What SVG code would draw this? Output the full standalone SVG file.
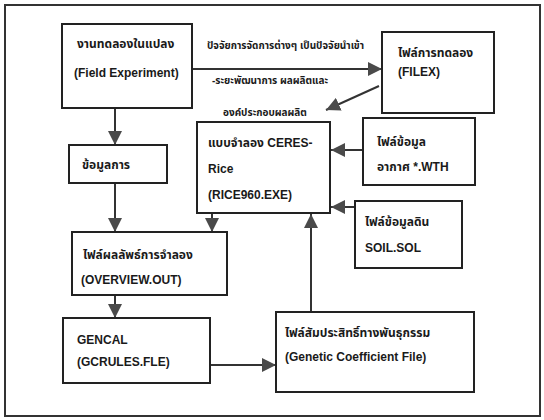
<svg xmlns="http://www.w3.org/2000/svg" width="544" height="420" viewBox="0 0 544 420">
<defs>
<marker id="ah" markerUnits="userSpaceOnUse" markerWidth="14" markerHeight="14" viewBox="0 0 14 14" refX="14" refY="7" orient="auto">
<path d="M0,0 L14,7 L0,14 Z" fill="#4a4a4a"/>
</marker>
<style>
.box{fill:#fff;stroke:#222;stroke-width:2}
.t{font-family:"Liberation Sans","Noto Sans Thai","Noto Sans",sans-serif;font-size:12px;font-weight:bold;fill:#1a1a1a}
.s{font-family:"Liberation Sans","Noto Sans Thai","Noto Sans",sans-serif;font-size:10px;font-weight:bold;fill:#1a1a1a}
.c{stroke:#333;stroke-width:2;fill:none;marker-end:url(#ah)}
</style>
</defs>
<rect width="544" height="420" fill="#fff"/>
<rect x="5" y="5" width="535" height="411" fill="none" stroke="#333" stroke-width="2"/>

<g id="connectors">
<line class="c" x1="192" y1="69" x2="382" y2="69"/>
<line class="c" x1="379" y1="86" x2="326" y2="110"/>
<line class="c" x1="115" y1="108" x2="115" y2="145"/>
<line class="c" x1="115" y1="183" x2="115" y2="232"/>
<line class="c" x1="212" y1="213" x2="212" y2="232"/>
<line class="c" x1="115" y1="295" x2="115" y2="318"/>
<line class="c" x1="210" y1="365" x2="276" y2="365"/>
<line class="c" x1="311" y1="312" x2="311" y2="214"/>
<line class="c" x1="363" y1="150" x2="331" y2="150"/>
<line class="c" x1="355" y1="207" x2="331" y2="207"/>
<text class="s" x="207" y="49">ปัจจัยการจัดการต่างๆ เป็นปัจจัยนำเข้า</text>
<text class="s" x="212" y="84">-ระยะพัฒนาการ ผลผลิตและ</text>
<text class="s" x="223" y="116">องค์ประกอบผลผลิต</text>
</g>

<g id="field">
<rect class="box" x="62" y="24" width="130" height="84"/>
<text class="t" x="77" y="48">งานทดลองในแปลง</text>
<text class="t" x="74" y="77">(Field Experiment)</text>
</g>

<g id="filex">
<rect class="box" x="382" y="32" width="112" height="81"/>
<text class="t" x="398" y="57">ไฟล์การทดลอง</text>
<text class="t" x="398" y="76">(FILEX)</text>
</g>

<g id="ceres">
<rect class="box" x="197" y="122" width="133" height="91"/>
<text class="t" x="208" y="147">แบบจำลอง CERES-</text>
<text class="t" x="208" y="173">Rice</text>
<text class="t" x="208" y="199">(RICE960.EXE)</text>
</g>

<g id="weather">
<rect class="box" x="363" y="118" width="112" height="67"/>
<text class="t" x="377" y="146">ไฟล์ข้อมูล</text>
<text class="t" x="377" y="171">อากาศ *.WTH</text>
</g>

<g id="soil">
<rect class="box" x="355" y="201" width="107" height="67"/>
<text class="t" x="365" y="226">ไฟล์ข้อมูลดิน</text>
<text class="t" x="365" y="252">SOIL.SOL</text>
</g>

<g id="data">
<rect class="box" x="69" y="145" width="98" height="38"/>
<text class="t" x="82" y="169">ข้อมูลการ</text>
</g>

<g id="overview">
<rect class="box" x="72" y="232" width="155" height="63"/>
<text class="t" x="83" y="259">ไฟล์ผลลัพธ์การจำลอง</text>
<text class="t" x="81" y="284">(OVERVIEW.OUT)</text>
</g>

<g id="gencal">
<rect class="box" x="63" y="318" width="147" height="65"/>
<text class="t" x="77" y="344">GENCAL</text>
<text class="t" x="77" y="366">(GCRULES.FLE)</text>
</g>

<g id="genetic">
<rect class="box" x="276" y="312" width="198" height="80"/>
<text class="t" x="285" y="337">ไฟล์สัมประสิทธิ์ทางพันธุกรรม</text>
<text class="t" x="285" y="361">(Genetic Coefficient File)</text>
</g>
</svg>
